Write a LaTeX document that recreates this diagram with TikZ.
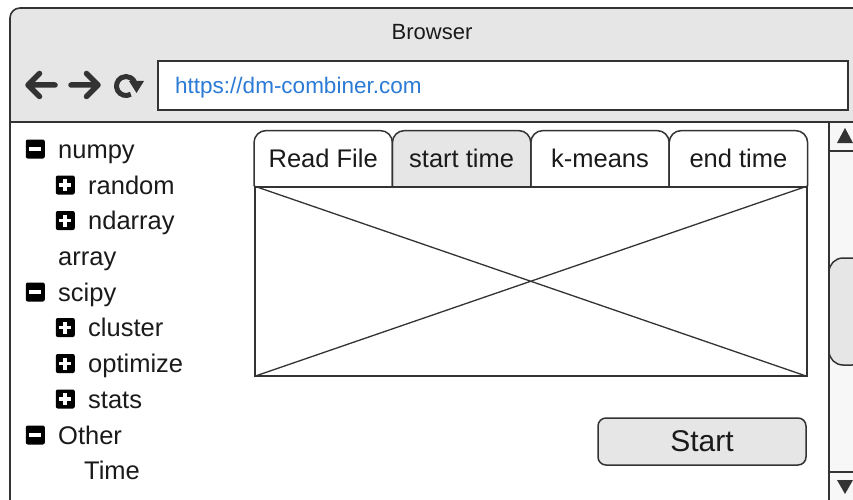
\documentclass[tikz,border=0pt]{standalone}
\usepackage{fontspec}
\setmainfont{Liberation Sans}
\usepackage{xcolor}
\usepackage{tikz}
\usetikzlibrary{positioning}

\definecolor{chrome}{HTML}{E6E6E6}
\definecolor{edge}{HTML}{333333}
\definecolor{ink}{HTML}{1A1A1A}
\definecolor{urlblue}{HTML}{2B7BD6}
\definecolor{track}{HTML}{F7F7F7}

\begin{document}
\begin{tikzpicture}[x=1pt, y=-1pt,
  browserline/.style={draw=edge, line width=1.6pt},
  uitext/.style={text=ink, inner sep=0pt, font=\fontsize{25.5}{30}\selectfont},
  treetext/.style={uitext, anchor=west, text height=18pt, text depth=0pt},
  treeicon/.style={fill=black, rounded corners=2pt, minimum size=19pt, inner sep=0pt},
  treeminus/.style={treeicon, path picture={\draw[white, line width=3.8pt]
      ([xshift=-6pt]path picture bounding box.center) --
      ([xshift=6pt]path picture bounding box.center);}},
  treeplus/.style={treeicon, path picture={\draw[white, line width=3.8pt]
      ([xshift=-6pt]path picture bounding box.center) --
      ([xshift=6pt]path picture bounding box.center)
      ([yshift=-6pt]path picture bounding box.center) --
      ([yshift=6pt]path picture bounding box.center);}},
  tabnode/.style={uitext, minimum width=138pt, minimum height=55pt, anchor=south west},
  activetab/.style={path picture={\fill[chrome, rounded corners=12pt]
      (path picture bounding box.south west) -- (path picture bounding box.north west)
      -- (path picture bounding box.north east) -- (path picture bounding box.south east);}},
  tabline/.style={draw=edge, line width=1.5pt, rounded corners=12pt},
  nav/.style={draw=edge, line width=5.5pt, line cap=round, line join=round}
]
  \useasboundingbox (0,0) rectangle (853,500);
  \clip (0,0) rectangle (853,500);
  \fill[white] (0,0) rectangle (853,500);

  % window chrome
  \fill[chrome, rounded corners=10pt] (10,122) -- (10,8) -- (870,8) -- (870,122);
  \fill[track] (829,122) rectangle (870,510);
  \draw[browserline] (10,122) -- (870,122);
  \draw[browserline, rounded corners=10pt] (10,510) -- (10,8) -- (870,8);
  \node[uitext, font=\fontsize{22}{26}\selectfont] (title) at (432,32) {Browser};

  % back, forward, reload
  \draw[nav] (55,85) -- (28,85) (39.5,73.5) -- (28,85) -- (39.5,96.5);
  \draw[nav] (71,85) -- (98,85) (86.5,73.5) -- (98,85) -- (86.5,96.5);
  \draw[draw=edge, line width=5pt] (126,86) ++(60:9.5) arc[start angle=60, end angle=335, radius=9.5];
  \fill[edge] (129,81) -- (144,81) -- (136.5,93) -- cycle;

  \node[browserline, fill=white, minimum width=690pt, minimum height=49pt,
        anchor=north west, inner sep=0pt] (urlbar) at (157,60) {};
  \node[uitext, anchor=west, text=urlblue, font=\fontsize{22.5}{26}\selectfont,
        text height=16pt, text depth=0pt] (url) at ([xshift=18pt]urlbar.west)
    {https://dm-combiner.com};

  % scrollbar
  \draw[browserline] (829,122) -- (829,510);
  \draw[browserline] (829,151) -- (870,151) (829,472) -- (870,472);
  \fill[edge] (845,128) -- (853,143) -- (837,143) -- cycle;
  \fill[edge] (837,480) -- (853,480) -- (845,494) -- cycle;
  \filldraw[fill=chrome, draw=edge, line width=1.5pt, rounded corners=14pt]
    (829,258) rectangle (866,365);

  % package tree
  \node[treetext] (numpy) at (58,149) {numpy};
  \node[treeminus, left=13pt of numpy] (numpyicon) {};
  \node[treetext] (random) at (88,185) {random};
  \node[treeplus, left=13pt of random] (randomicon) {};
  \node[treetext] (ndarray) at (88,220.5) {ndarray};
  \node[treeplus, left=13pt of ndarray] (ndarrayicon) {};
  \node[treetext] (array) at (58,256) {array};
  \node[treetext] (scipy) at (58,292) {scipy};
  \node[treeminus, left=13pt of scipy] (scipyicon) {};
  \node[treetext] (cluster) at (88,327.5) {cluster};
  \node[treeplus, left=13pt of cluster] (clustericon) {};
  \node[treetext] (optimize) at (88,363.5) {optimize};
  \node[treeplus, left=13pt of optimize] (optimizeicon) {};
  \node[treetext] (stats) at (88,399) {stats};
  \node[treeplus, left=13pt of stats] (statsicon) {};
  \node[treetext] (other) at (58,435) {Other};
  \node[treeminus, left=13pt of other] (othericon) {};
  \node[treetext] (time) at (84,470.5) {Time};

  % tabs and canvas
  \node[tabnode] (readfile) at (254,186) {Read File};
  \node[tabnode, activetab, right=0pt of readfile] (starttime) {start time};
  \node[tabnode, right=0pt of starttime] (kmeans) {k-means};
  \node[tabnode, right=0pt of kmeans] (endtime) {end time};
  \draw[tabline] (readfile.south west) -- (readfile.north west)
    -- (readfile.north east) -- (readfile.south east);
  \draw[tabline] (starttime.south west) -- (starttime.north west)
    -- (starttime.north east) -- (starttime.south east);
  \draw[tabline] (kmeans.south west) -- (kmeans.north west)
    -- (kmeans.north east) -- (kmeans.south east);
  \draw[tabline] (endtime.south west) -- (endtime.north west)
    -- (endtime.north east) -- (endtime.south east);

  \node[draw=edge, line width=1.5pt, minimum width=552pt, minimum height=189pt,
        anchor=north west, inner sep=0pt] (canvas) at (readfile.south west) {};
  \draw[draw=edge, line width=1.3pt] (canvas.north west) -- (canvas.south east)
    (canvas.south west) -- (canvas.north east);

  % run button
  \node[uitext, draw=edge, line width=1.5pt, fill=chrome, rounded corners=8pt,
        minimum width=208pt, minimum height=47pt,
        font=\fontsize{30}{34}\selectfont] (start) at (702,441.5) {Start};
\end{tikzpicture}
\end{document}
